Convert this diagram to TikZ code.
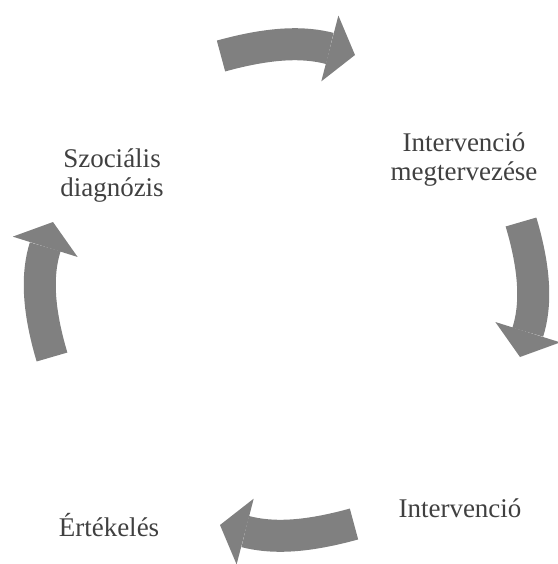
\documentclass[tikz,border=0pt]{standalone}
\usepackage{fontspec}
\setmainfont{Liberation Serif}
\usetikzlibrary{arrows.meta}
\tikzset{stage label/.style={
          align=center,
          text=black!75,
          font=\fontsize{13.5}{14.5}\selectfont,
          inner sep=0pt
          },
        cycle arrow/.style={
          draw=gray,
          line width=16pt,
          -{Triangle[width=34pt, length=13pt, line width=0pt]}
          },
}

\begin{document}
\begin{tikzpicture}[x=0.5pt, y=-0.5pt]
      \useasboundingbox (0,0) rectangle (558,564);
      % STAGES
      \node[stage label] (diag) at (112,176) {Szociális\\diagnózis};
      \node[stage label] (plan) at (464,160) {Intervenció\\megtervezése};
      \node[stage label] (interv) at (460,508) {Intervenció};
      \node[stage label] (eval) at (109,525) {Értékelés};

      % ARROW ENDS
      \coordinate (top tail) at (221,56);
      \coordinate (top tip) at (355,55);
      \coordinate (right tail) at (521,222);
      \coordinate (right tip) at (520,357);
      \coordinate (bottom tail) at (354,524);
      \coordinate (bottom tip) at (220,525);
      \coordinate (left tail) at (52,357);
      \coordinate (left tip) at (53,222);

      % ARROWS
      \draw[cycle arrow] (top tail) to[bend left=15] (top tip);
      \draw[cycle arrow] (right tail) to[bend left=17] (right tip);
      \draw[cycle arrow] (bottom tail) to[bend left=15] (bottom tip);
      \draw[cycle arrow] (left tail) to[bend left=17] (left tip);
\end{tikzpicture}
\end{document}
